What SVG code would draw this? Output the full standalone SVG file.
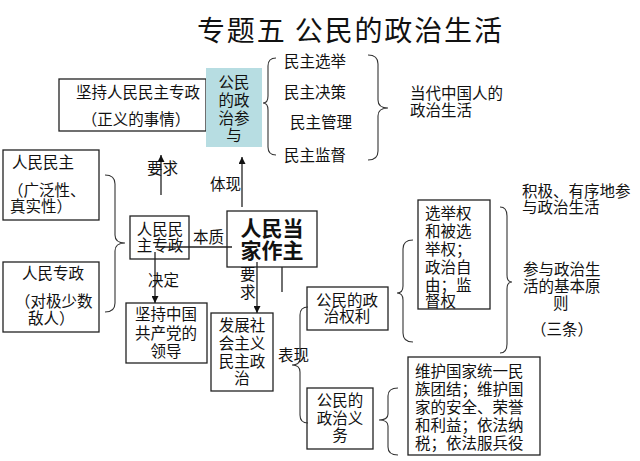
<svg xmlns="http://www.w3.org/2000/svg" width="640" height="461" viewBox="0 0 640 461">
<defs>
<style>
text{font-family:"Noto Sans CJK SC","Noto Sans",sans-serif;fill:#111;font-size:15.5px}
.box{fill:#fff;stroke:#222;stroke-width:1.3}
.teal{fill:#b7dde2;stroke:none}
.ln{fill:none;stroke:#222;stroke-width:1.3}
.br{fill:none;stroke:#333;stroke-width:1.1}
.c{text-anchor:middle}
.big{font-size:21px;font-weight:bold}
.title{font-size:28px}
</style>
<marker id="ah" viewBox="0 0 10 10" refX="10" refY="5" markerWidth="7" markerHeight="7" orient="auto" markerUnits="userSpaceOnUse">
<path d="M0,0 L10,5 L0,10 z" fill="#111"/>
</marker>
</defs>
<rect width="640" height="461" fill="#fff"/>

<text class="title" x="197" y="41" textLength="305" lengthAdjust="spacing">专题五 公民的政治生活</text>

<g id="node-jianchi">
<rect class="box" x="59" y="79" width="147" height="52"/>
<text class="c"><tspan x="138" y="98">坚持人民民主专政</tspan><tspan x="136" y="125">（正义的事情）</tspan></text>
</g>

<g id="node-canyu">
<rect class="teal" x="206" y="68" width="56" height="79"/>
<text class="c"><tspan x="234" y="88">公民</tspan><tspan x="234" y="106">的政</tspan><tspan x="234" y="124">治参</tspan><tspan x="234" y="141">与</tspan></text>
</g>

<g id="node-minzhu-items">
<text x="284" y="67">民主选举</text>
<text x="284" y="98">民主决策</text>
<text x="290" y="128">民主管理</text>
<text x="284" y="161">民主监督</text>
</g>

<g id="node-dangdai">
<text><tspan x="410" y="99">当代中国人的</tspan><tspan x="410" y="116">政治生活</tspan></text>
</g>

<g id="node-renminminzhu">
<rect class="box" x="3" y="150" width="96" height="70"/>
<text x="12" y="168">人民民主</text>
<text><tspan x="8" y="196">（广泛性、</tspan><tspan x="10" y="212">真实性）</tspan></text>
</g>

<g id="node-renminzhuanzheng">
<rect class="box" x="3" y="262" width="96" height="70"/>
<text x="22" y="279">人民专政</text>
<text><tspan x="15" y="307">（对极少数</tspan><tspan x="28" y="324">敌人）</tspan></text>
</g>

<g id="node-zhuanzheng">
<rect class="box" x="130" y="216" width="59" height="43"/>
<text class="c"><tspan x="160" y="235">人民民</tspan><tspan x="160" y="251">主专政</tspan></text>
</g>

<g id="node-dangjia">
<rect class="box" x="227" y="211" width="90" height="56"/>
<text class="c big"><tspan x="272" y="236">人民当</tspan><tspan x="272" y="258">家作主</tspan></text>
</g>

<g id="node-dang">
<rect class="box" x="126" y="303" width="81" height="60"/>
<text class="c"><tspan x="166" y="320">坚持中国</tspan><tspan x="166" y="339">共产党的</tspan><tspan x="166" y="357">领导</tspan></text>
</g>

<g id="node-fazhan">
<rect class="box" x="211" y="313" width="62" height="78"/>
<text class="c"><tspan x="242" y="331">发展社</tspan><tspan x="242" y="349">会主义</tspan><tspan x="242" y="367">民主政</tspan><tspan x="242" y="384">治</tspan></text>
</g>

<g id="node-quanli">
<rect class="box" x="307" y="287" width="81" height="43"/>
<text class="c"><tspan x="347" y="306">公民的政</tspan><tspan x="347" y="322">治权利</tspan></text>
</g>

<g id="node-xuanju">
<rect class="box" x="418" y="200" width="72" height="109"/>
<text><tspan x="425" y="219">选举权</tspan><tspan x="425" y="237">和被选</tspan><tspan x="425" y="255">举权；</tspan><tspan x="425" y="273">政治自</tspan><tspan x="425" y="291">由；监</tspan><tspan x="425" y="307">督权</tspan></text>
</g>

<g id="node-jiji">
<text><tspan x="522" y="197">积极、有序地参</tspan><tspan x="522" y="213">与政治生活</tspan></text>
</g>

<g id="node-yuanze">
<text><tspan x="523" y="275">参与政治生</tspan><tspan x="523" y="292">活的基本原</tspan><tspan x="553" y="309">则</tspan></text>
<text x="531" y="335">（三条）</text>
</g>

<g id="node-yiwu">
<rect class="box" x="307" y="388" width="66" height="61"/>
<text class="c"><tspan x="340" y="406">公民的</tspan><tspan x="340" y="424">政治义</tspan><tspan x="340" y="441">务</tspan></text>
</g>

<g id="node-weihu">
<rect class="box" x="408" y="357" width="132" height="98"/>
<text><tspan x="415" y="377">维护国家统一民</tspan><tspan x="415" y="395">族团结；维护国</tspan><tspan x="415" y="413">家的安全、荣誉</tspan><tspan x="415" y="431">和利益；依法纳</tspan><tspan x="415" y="449">税；依法服兵役</tspan></text>
</g>

<g id="connectors">
<path class="br" d="M276,58 Q268,58 268,66 L268,96 Q268,103 263,103 Q268,103 268,110 L268,147 Q268,155 276,155"/>
<path class="br" d="M368,55 Q378,55 378,64 L378,100 Q378,108 388,108 Q378,108 378,116 L378,151 Q378,160 368,160"/>
<path class="br" d="M105,175 Q115,175 115,184 L115,235 Q115,243 125,243 Q115,243 115,251 L115,303 Q115,312 105,312"/>
<path class="br" d="M308,307 Q300,307 300,315 L300,358 Q300,365 292,365 Q300,365 300,372 L300,415 Q300,423 308,423"/>
<path class="br" d="M413,240 Q403,240 403,249 L403,286 Q403,293 397,293 Q403,293 403,300 L403,333 Q403,342 413,342"/>
<path class="br" d="M500,207 Q507,207 507,216 L507,275 Q507,282 512,282 Q507,282 507,289 L507,344 Q507,353 500,353"/>
<path class="br" d="M398,388 Q388,388 388,396 L388,414 Q388,420 379,420 Q388,420 388,426 L388,447 Q388,455 398,455"/>
<line class="ln" x1="161" y1="195" x2="161" y2="155" marker-end="url(#ah)"/>
<line class="ln" x1="242" y1="207" x2="242" y2="157" marker-end="url(#ah)"/>
<line class="ln" x1="155" y1="247" x2="232" y2="247"/>
<line class="ln" x1="155" y1="252" x2="155" y2="303" marker-end="url(#ah)"/>
<line class="ln" x1="257" y1="262" x2="257" y2="313" marker-end="url(#ah)"/>
<line class="ln" x1="282" y1="267" x2="282" y2="292"/>
<text x="147" y="174">要求</text>
<text x="210" y="190">体现</text>
<text x="193" y="243">本质</text>
<text x="148" y="286">决定</text>
<text font-size="14"><tspan x="240" y="280">要</tspan><tspan x="240" y="298">求</tspan></text>
<text x="278" y="361">表现</text>
</g>
</svg>
